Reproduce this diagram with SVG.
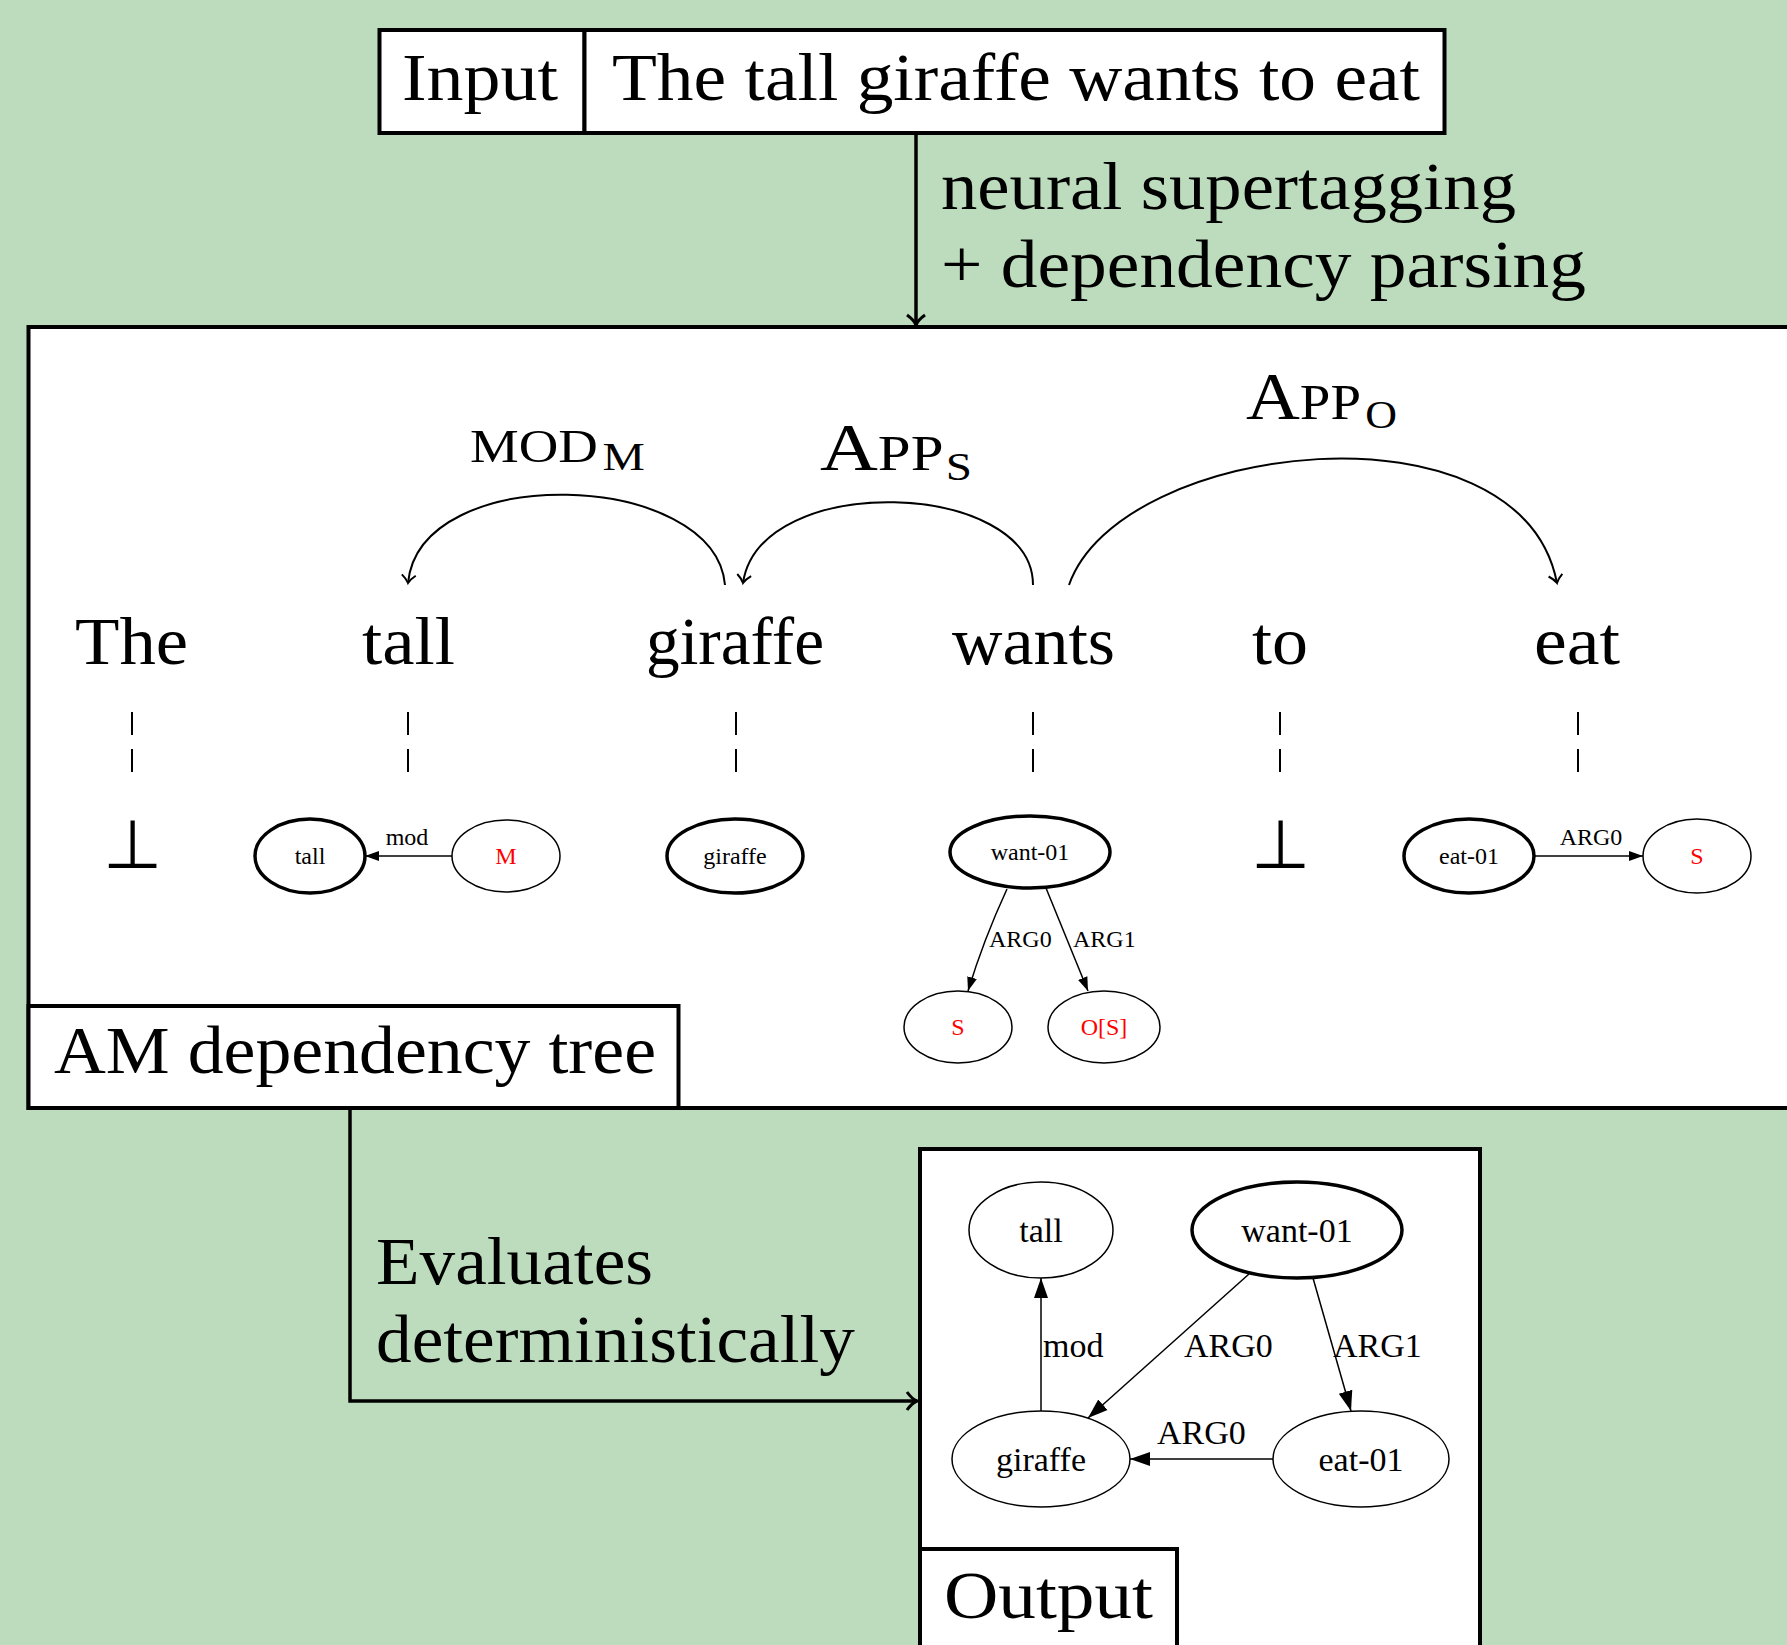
<svg xmlns="http://www.w3.org/2000/svg" width="1787" height="1645" viewBox="0 0 1787 1645">
<defs>
<style>
.big{font-family:"Liberation Serif","Times New Roman",serif;font-size:68px;fill:#000}
.lbl{font-family:"Liberation Serif","Times New Roman",serif;fill:#000}
.sm{font-size:24px}
.md{font-size:34px}
.red{fill:#ff0000}
.box{fill:#fff;stroke:#000;stroke-width:4}
.thin{fill:#fff;stroke:#000;stroke-width:1.5}
.thick{fill:#fff;stroke:#000;stroke-width:3.5}
.edge{fill:none;stroke:#000;stroke-width:1.5}
.arc{fill:none;stroke:#000;stroke-width:2}
.flow{fill:none;stroke:#000;stroke-width:3.5}
.dash{stroke:#000;stroke-width:2;stroke-dasharray:23 14}
</style>
<marker id="tri" markerUnits="userSpaceOnUse" markerWidth="16" markerHeight="12" refX="14" refY="6" orient="auto">
<path d="M0,1 L14,6 L0,11 Z" fill="#000"/>
</marker>
<marker id="triL" markerUnits="userSpaceOnUse" markerWidth="22" markerHeight="18" refX="20" refY="9" orient="auto">
<path d="M0,2 L20,9 L0,16 Z" fill="#000"/>
</marker>
<marker id="to" markerUnits="userSpaceOnUse" markerWidth="20" markerHeight="20" refX="12" refY="10" orient="auto">
<path d="M4,3 Q8,8 12,10 Q8,12 4,17" fill="none" stroke="#000" stroke-width="2"/>
</marker>
<marker id="toB" markerUnits="userSpaceOnUse" markerWidth="24" markerHeight="24" refX="14" refY="12" orient="auto">
<path d="M4,3 Q9,10 14,12 Q9,14 4,21" fill="none" stroke="#000" stroke-width="3"/>
</marker>
</defs>
<rect x="0" y="0" width="1787" height="1645" fill="#bddcbd"/>

<g id="input">
<rect class="box" x="379.5" y="30" width="205" height="103"/>
<rect class="box" x="584.5" y="30" width="860" height="103"/>
<text class="big" x="402" y="100" textLength="156" lengthAdjust="spacingAndGlyphs">Input</text>
<text class="big" x="612" y="100" textLength="808" lengthAdjust="spacingAndGlyphs">The tall giraffe wants to eat</text>
</g>

<g id="am-tree">
<rect class="box" x="28.5" y="327" width="1800" height="781"/>
<g id="words">
<text class="big" x="75" y="664" textLength="113" lengthAdjust="spacingAndGlyphs">The</text>
<text class="big" x="362" y="664" textLength="93" lengthAdjust="spacingAndGlyphs">tall</text>
<text class="big" x="646" y="664" textLength="178" lengthAdjust="spacingAndGlyphs">giraffe</text>
<text class="big" x="952" y="664" textLength="163" lengthAdjust="spacingAndGlyphs">wants</text>
<text class="big" x="1252" y="664" textLength="56" lengthAdjust="spacingAndGlyphs">to</text>
<text class="big" x="1534" y="664" textLength="86" lengthAdjust="spacingAndGlyphs">eat</text>
</g>
<g id="dashes">
<line class="dash" x1="132" y1="712" x2="132" y2="772"/>
<line class="dash" x1="408" y1="712" x2="408" y2="772"/>
<line class="dash" x1="736" y1="712" x2="736" y2="772"/>
<line class="dash" x1="1033" y1="712" x2="1033" y2="772"/>
<line class="dash" x1="1280" y1="712" x2="1280" y2="772"/>
<line class="dash" x1="1578" y1="712" x2="1578" y2="772"/>
</g>
<g id="bot1"><text class="big" x="132" y="868" text-anchor="middle">⊥</text></g>
<g id="bot2"><text class="big" x="1280" y="868" text-anchor="middle">⊥</text></g>

<g id="n-tall"><ellipse class="thick" cx="310" cy="856" rx="55" ry="37"/><text class="lbl sm" x="310" y="864" text-anchor="middle">tall</text></g>
<g id="n-M"><ellipse class="thin" cx="506" cy="856" rx="54" ry="36"/><text class="lbl sm red" x="506" y="864" text-anchor="middle">M</text></g>
<g id="n-giraffe"><ellipse class="thick" cx="735" cy="856" rx="68" ry="37"/><text class="lbl sm" x="735" y="864" text-anchor="middle">giraffe</text></g>
<g id="n-want"><ellipse class="thick" cx="1030" cy="852" rx="80" ry="36"/><text class="lbl sm" x="1030" y="860" text-anchor="middle">want-01</text></g>
<g id="n-S1"><ellipse class="thin" cx="958" cy="1027" rx="54" ry="36"/><text class="lbl sm red" x="958" y="1035" text-anchor="middle">S</text></g>
<g id="n-OS"><ellipse class="thin" cx="1104" cy="1027" rx="56" ry="36"/><text class="lbl sm red" x="1104" y="1035" text-anchor="middle">O[S]</text></g>
<g id="n-eat"><ellipse class="thick" cx="1469" cy="856" rx="65" ry="37"/><text class="lbl sm" x="1469" y="864" text-anchor="middle">eat-01</text></g>
<g id="n-S2"><ellipse class="thin" cx="1697" cy="856" rx="54" ry="37"/><text class="lbl sm red" x="1697" y="864" text-anchor="middle">S</text></g>

<g id="am-labels">
<text class="big" x="470" y="462" style="font-size:46px" textLength="175" lengthAdjust="spacingAndGlyphs">MOD<tspan dx="4" dy="8" style="font-size:40px">M</tspan></text>
<text class="big" x="820" y="470" textLength="152" lengthAdjust="spacingAndGlyphs">A<tspan style="font-size:50px">PP</tspan><tspan dx="2" dy="10" style="font-size:40px">S</tspan></text>
<text class="big" x="1246" y="419" textLength="151" lengthAdjust="spacingAndGlyphs">A<tspan style="font-size:50px">PP</tspan><tspan dx="4" dy="9" style="font-size:40px">O</tspan></text>
</g>

<g id="am-label-box">
<rect class="box" x="28.5" y="1006" width="650" height="102"/>
<text class="big" x="54" y="1073" textLength="602" lengthAdjust="spacingAndGlyphs">AM dependency tree</text>
</g>
</g>

<g id="output">
<rect class="box" x="920" y="1149" width="560" height="520"/>
<g id="o-tall"><ellipse class="thin" cx="1041" cy="1230" rx="72" ry="48"/><text class="lbl md" x="1041" y="1242" text-anchor="middle">tall</text></g>
<g id="o-want"><ellipse class="thick" cx="1297" cy="1230" rx="105" ry="48"/><text class="lbl md" x="1297" y="1242" text-anchor="middle">want-01</text></g>
<g id="o-giraffe"><ellipse class="thin" cx="1041" cy="1459" rx="89" ry="48"/><text class="lbl md" x="1041" y="1471" text-anchor="middle">giraffe</text></g>
<g id="o-eat"><ellipse class="thin" cx="1361" cy="1459" rx="88" ry="48"/><text class="lbl md" x="1361" y="1471" text-anchor="middle">eat-01</text></g>
<g id="output-label-box">
<rect class="box" x="920" y="1549" width="257" height="120"/>
<text class="big" x="944" y="1618" textLength="209" lengthAdjust="spacingAndGlyphs">Output</text>
</g>
</g>

<g id="connectors">
<line class="flow" x1="916" y1="133" x2="916" y2="325" marker-end="url(#toB)"/>
<text class="big" x="941" y="209" textLength="575" lengthAdjust="spacingAndGlyphs">neural supertagging</text>
<text class="big" x="941" y="287" textLength="645" lengthAdjust="spacingAndGlyphs">+ dependency parsing</text>

<path class="arc" d="M725,585 C715,470 420,460 408,583" marker-end="url(#to)"/>
<path class="arc" d="M1033,585 C1033,480 760,470 743,583" marker-end="url(#to)"/>
<path class="arc" d="M1069,585 C1120,440 1520,395 1557,583" marker-end="url(#to)"/>

<line class="edge" x1="452" y1="856" x2="365" y2="856" marker-end="url(#tri)"/>
<text class="lbl sm" x="407" y="845" text-anchor="middle">mod</text>
<path class="edge" d="M1007,889 C995,915 982,945 968,991" marker-end="url(#tri)"/>
<text class="lbl sm" x="989" y="947">ARG0</text>
<line class="edge" x1="1046" y1="888" x2="1088" y2="991" marker-end="url(#tri)"/>
<text class="lbl sm" x="1073" y="947">ARG1</text>
<line class="edge" x1="1534" y1="856" x2="1643" y2="856" marker-end="url(#tri)"/>
<text class="lbl sm" x="1591" y="845" text-anchor="middle">ARG0</text>

<polyline class="flow" points="350,1108 350,1401 917,1401" marker-end="url(#toB)"/>
<text class="big" x="376" y="1284" textLength="277" lengthAdjust="spacingAndGlyphs">Evaluates</text>
<text class="big" x="376" y="1362" textLength="479" lengthAdjust="spacingAndGlyphs">deterministically</text>

<line class="edge" x1="1041" y1="1411" x2="1041" y2="1278" marker-end="url(#triL)"/>
<text class="lbl md" x="1043" y="1357">mod</text>
<line class="edge" x1="1249" y1="1274" x2="1088" y2="1418" marker-end="url(#triL)"/>
<text class="lbl md" x="1184" y="1357">ARG0</text>
<line class="edge" x1="1313" y1="1278" x2="1351" y2="1411" marker-end="url(#triL)"/>
<text class="lbl md" x="1333" y="1357">ARG1</text>
<line class="edge" x1="1273" y1="1459" x2="1130" y2="1459" marker-end="url(#triL)"/>
<text class="lbl md" x="1157" y="1444">ARG0</text>
</g>
</svg>
